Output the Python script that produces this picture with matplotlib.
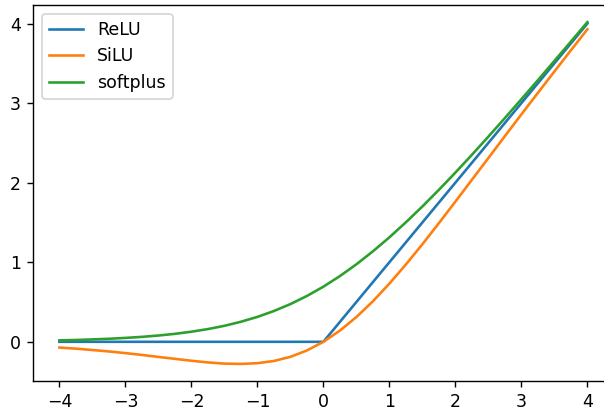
import matplotlib
matplotlib.use("Agg")
import matplotlib.pyplot as plt

# values at 0.25 steps
x = [-4.0, -3.75, -3.5, -3.25, -3.0, -2.75, -2.5, -2.25, -2.0, -1.75, -1.5,
     -1.25, -1.0, -0.75, -0.5, -0.25, 0.0, 0.25, 0.5, 0.75, 1.0, 1.25, 1.5,
     1.75, 2.0, 2.25, 2.5, 2.75, 3.0, 3.25, 3.5, 3.75, 4.0]

relu = [0.0, 0.0, 0.0, 0.0, 0.0, 0.0, 0.0, 0.0, 0.0, 0.0, 0.0,
        0.0, 0.0, 0.0, 0.0, 0.0, 0.0, 0.25, 0.5, 0.75, 1.0, 1.25, 1.5,
        1.75, 2.0, 2.25, 2.5, 2.75, 3.0, 3.25, 3.5, 3.75, 4.0]

silu = [-0.072, -0.086, -0.103, -0.121, -0.142, -0.165, -0.190, -0.214,
        -0.238, -0.259, -0.274, -0.278, -0.269, -0.241, -0.189, -0.109,
        0.0, 0.141, 0.311, 0.509, 0.731, 0.972, 1.226, 1.491, 1.762,
        2.036, 2.310, 2.585, 2.858, 3.129, 3.397, 3.664, 3.928]

softplus = [0.018, 0.023, 0.030, 0.038, 0.049, 0.062, 0.079, 0.100, 0.127,
            0.160, 0.201, 0.252, 0.313, 0.387, 0.474, 0.576, 0.693, 0.826,
            0.974, 1.137, 1.313, 1.502, 1.701, 1.910, 2.127, 2.350, 2.579,
            2.812, 3.049, 3.288, 3.530, 3.773, 4.018]

DPI = 125
fig = plt.figure(figsize=(604 / DPI, 412 / DPI), dpi=DPI)
# right spine sits just past the image edge in the reference
ax = fig.add_axes([0.0546, 0.0752, 0.9616, 0.9126])

ax.plot(x, relu, label="ReLU")
ax.plot(x, silu, label="SiLU")
ax.plot(x, softplus, label="softplus")
ax.legend(loc="upper left")

fig.savefig("out.png", dpi=DPI)
